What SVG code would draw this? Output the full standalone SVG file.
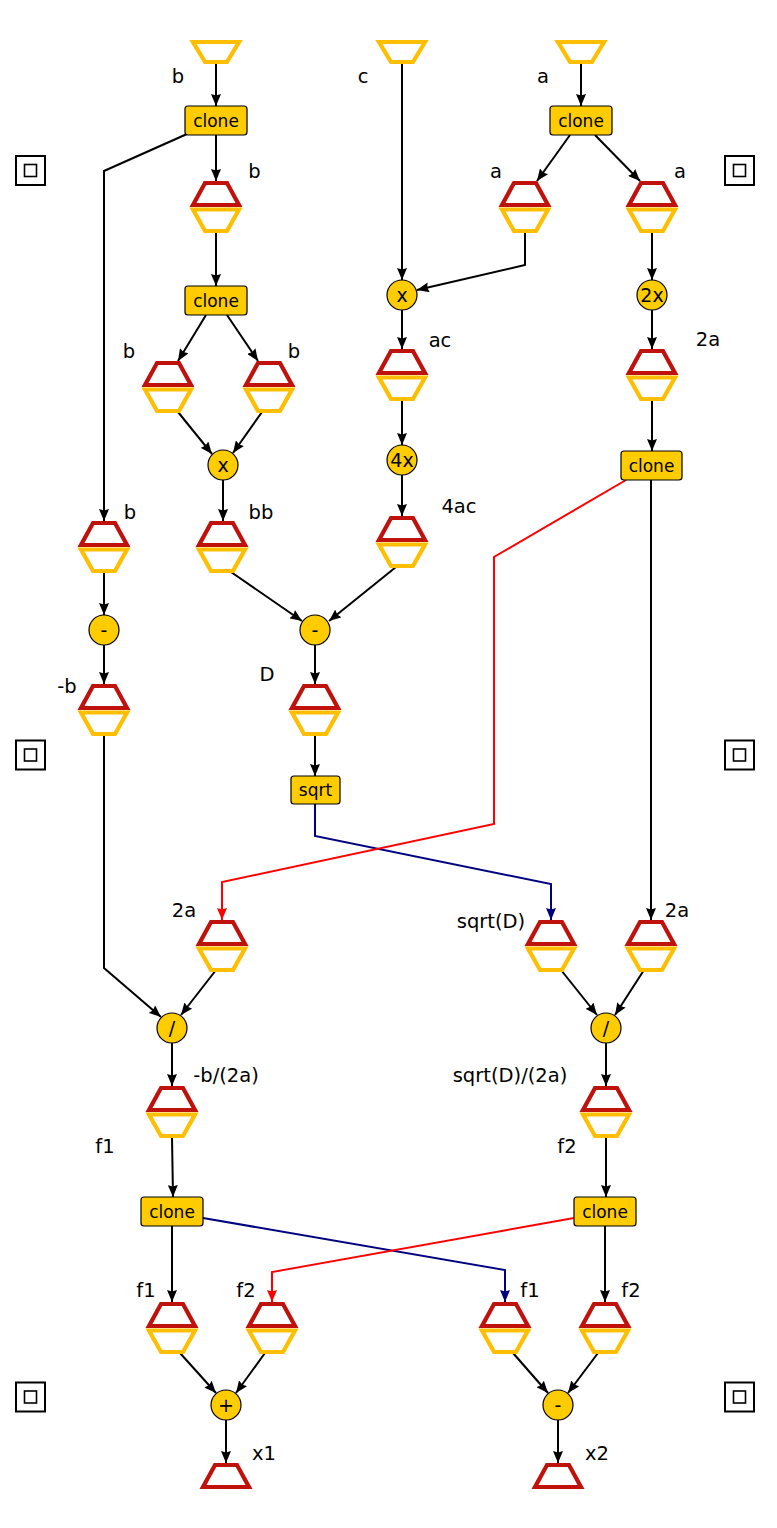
<svg xmlns="http://www.w3.org/2000/svg" xmlns:xlink="http://www.w3.org/1999/xlink" width="777" height="1528" viewBox="0 0 777 1528">
<style>
.e{fill:none;stroke:#000;stroke-width:2}
.er{fill:none;stroke:#ff0000;stroke-width:2}
.eb{fill:none;stroke:#000080;stroke-width:2}
.red{fill:none;stroke:#c0120c;stroke-width:4.2;stroke-linejoin:miter}
.yel{fill:none;stroke:#ffbf00;stroke-width:4.2;stroke-linejoin:miter}
.box{fill:#ffcc00;stroke:#000;stroke-width:1.2}
.t{font-family:"DejaVu Sans",sans-serif;font-size:19.5px;fill:#000;text-anchor:middle}
.to{font-family:"DejaVu Sans",sans-serif;font-size:19px;fill:#000;text-anchor:middle}
.tc{font-family:"DejaVu Sans",sans-serif;font-size:17px;fill:#000;text-anchor:middle}
.sq{fill:none;stroke:#000;stroke-width:2}
.sqi{fill:none;stroke:#000;stroke-width:1.6}
</style>
<defs>
<marker id="ab" viewBox="0 0 12 10" refX="12" refY="5" markerWidth="12" markerHeight="10" markerUnits="userSpaceOnUse" orient="auto"><path d="M0,0 L12,5 L0,10 L1.5,5 z" fill="#000"/></marker>
<marker id="ar" viewBox="0 0 12 10" refX="12" refY="5" markerWidth="12" markerHeight="10" markerUnits="userSpaceOnUse" orient="auto"><path d="M0,0 L12,5 L0,10 L1.5,5 z" fill="#ff0000"/></marker>
<marker id="au" viewBox="0 0 12 10" refX="12" refY="5" markerWidth="12" markerHeight="10" markerUnits="userSpaceOnUse" orient="auto"><path d="M0,0 L12,5 L0,10 L1.5,5 z" fill="#000080"/></marker>
<g id="hex"><polygon class="red" points="-11,2 11,2 23,24 -23,24"/><polygon class="yel" points="-23,28.5 23,28.5 11,50 -11,50"/></g>
<g id="inp"><polygon class="yel" points="-23,2 23,2 11,22 -11,22"/></g>
<g id="outp"><polygon class="red" points="-11,2 11,2 23,24 -23,24"/></g>
<g id="sqr"><rect class="sq" x="-14.5" y="-14.5" width="29" height="29"/><rect class="sqi" x="-6" y="-6" width="12" height="12"/></g>
</defs>
<rect width="777" height="1528" fill="#fff"/>

<g id="frame">
<use xlink:href="#sqr" x="30.5" y="170.5"/>
<use xlink:href="#sqr" x="739.5" y="170.5"/>
<use xlink:href="#sqr" x="30.5" y="755"/>
<use xlink:href="#sqr" x="739.5" y="755"/>
<use xlink:href="#sqr" x="30.5" y="1397"/>
<use xlink:href="#sqr" x="739.5" y="1397"/>
</g>

<g id="edges">
<path class="e" d="M216,64 L216,106" marker-end="url(#ab)"/>
<path class="e" d="M581,64 L581,106" marker-end="url(#ab)"/>
<path class="e" d="M402,64 L402,280" marker-end="url(#ab)"/>
<path class="e" d="M187,134 L104,171 L104,521" marker-end="url(#ab)"/>
<path class="e" d="M216,135 L216,181" marker-end="url(#ab)"/>
<path class="e" d="M570,135 L537,181" marker-end="url(#ab)"/>
<path class="e" d="M595,135 L640,181" marker-end="url(#ab)"/>
<path class="e" d="M216,232 L216,286" marker-end="url(#ab)"/>
<path class="e" d="M525,232 L525,265 L417,290" marker-end="url(#ab)"/>
<path class="e" d="M652,232 L652,280" marker-end="url(#ab)"/>
<path class="e" d="M206,315 L178,361" marker-end="url(#ab)"/>
<path class="e" d="M227,315 L258,361" marker-end="url(#ab)"/>
<path class="e" d="M178,412 L212,454" marker-end="url(#ab)"/>
<path class="e" d="M262,412 L233,453" marker-end="url(#ab)"/>
<path class="e" d="M402,310 L402,349" marker-end="url(#ab)"/>
<path class="e" d="M402,400 L402,445" marker-end="url(#ab)"/>
<path class="e" d="M402,475 L402,516" marker-end="url(#ab)"/>
<path class="e" d="M652,310 L652,349" marker-end="url(#ab)"/>
<path class="e" d="M652,400 L652,451" marker-end="url(#ab)"/>
<path class="e" d="M223,480 L223,521" marker-end="url(#ab)"/>
<path class="e" d="M104,572 L104,615" marker-end="url(#ab)"/>
<path class="e" d="M104,645 L104,684" marker-end="url(#ab)"/>
<path class="e" d="M231,572 L302,621" marker-end="url(#ab)"/>
<path class="e" d="M396,567 L329,621" marker-end="url(#ab)"/>
<path class="e" d="M315,645 L315,684" marker-end="url(#ab)"/>
<path class="e" d="M315,735 L315,776" marker-end="url(#ab)"/>
<path class="eb" d="M315,804 L315,836 L551,884 L551,920" marker-end="url(#au)"/>
<path class="er" d="M626,480 L494,557 L494,824 L222,882 L222,920" marker-end="url(#ar)"/>
<path class="e" d="M651,480 L651,920" marker-end="url(#ab)"/>
<path class="e" d="M104,735 L104,968 L161,1017" marker-end="url(#ab)"/>
<path class="e" d="M216,970 L181,1015" marker-end="url(#ab)"/>
<path class="e" d="M561,970 L597,1015" marker-end="url(#ab)"/>
<path class="e" d="M644,970 L615,1015" marker-end="url(#ab)"/>
<path class="e" d="M172,1043 L172,1086" marker-end="url(#ab)"/>
<path class="e" d="M606,1043 L606,1086" marker-end="url(#ab)"/>
<path class="e" d="M172,1137 L173,1197" marker-end="url(#ab)"/>
<path class="e" d="M606,1137 L606,1197" marker-end="url(#ab)"/>
<path class="e" d="M172,1226 L172,1302" marker-end="url(#ab)"/>
<path class="eb" d="M203,1218 L505,1270 L505,1302" marker-end="url(#au)"/>
<path class="er" d="M574,1218 L272,1272 L272,1302" marker-end="url(#ar)"/>
<path class="e" d="M605,1226 L605,1302" marker-end="url(#ab)"/>
<path class="e" d="M180,1353 L216,1393" marker-end="url(#ab)"/>
<path class="e" d="M265,1353 L236,1393" marker-end="url(#ab)"/>
<path class="e" d="M513,1353 L548,1393" marker-end="url(#ab)"/>
<path class="e" d="M598,1353 L568,1393" marker-end="url(#ab)"/>
<path class="e" d="M226,1420 L226,1463" marker-end="url(#ab)"/>
<path class="e" d="M558,1420 L558,1463" marker-end="url(#ab)"/>
</g>

<g id="in_b"><use xlink:href="#inp" x="216" y="40"/></g>
<g id="in_c"><use xlink:href="#inp" x="402" y="40"/></g>
<g id="in_a"><use xlink:href="#inp" x="581" y="40"/></g>

<g id="clone1"><rect class="box" x="185" y="106" width="62" height="29" rx="3"/><text class="tc" x="216" y="126.5">clone</text></g>
<g id="clone2"><rect class="box" x="550" y="106" width="62" height="29" rx="3"/><text class="tc" x="581" y="126.5">clone</text></g>
<g id="clone3"><rect class="box" x="185" y="286" width="62" height="29" rx="3"/><text class="tc" x="216" y="306.5">clone</text></g>
<g id="clone4"><rect class="box" x="621" y="451" width="61" height="29" rx="3"/><text class="tc" x="651.5" y="471.5">clone</text></g>
<g id="clone5"><rect class="box" x="141" y="1197" width="62" height="29" rx="3"/><text class="tc" x="172" y="1217.5">clone</text></g>
<g id="clone6"><rect class="box" x="574" y="1197" width="62" height="29" rx="3"/><text class="tc" x="605" y="1217.5">clone</text></g>
<g id="sqrt"><rect class="box" x="291" y="776" width="49" height="28" rx="3"/><text class="tc" x="315.5" y="796">sqrt</text></g>

<g id="h_b1"><use xlink:href="#hex" x="216" y="181"/></g>
<g id="h_a1"><use xlink:href="#hex" x="525" y="181"/></g>
<g id="h_a2"><use xlink:href="#hex" x="652" y="181"/></g>
<g id="h_b2"><use xlink:href="#hex" x="168" y="361"/></g>
<g id="h_b3"><use xlink:href="#hex" x="269" y="361"/></g>
<g id="h_ac"><use xlink:href="#hex" x="402" y="349"/></g>
<g id="h_2a"><use xlink:href="#hex" x="652" y="349"/></g>
<g id="h_b4"><use xlink:href="#hex" x="104" y="521"/></g>
<g id="h_bb"><use xlink:href="#hex" x="222" y="521"/></g>
<g id="h_4ac"><use xlink:href="#hex" x="402" y="516"/></g>
<g id="h_mb"><use xlink:href="#hex" x="104" y="684"/></g>
<g id="h_D"><use xlink:href="#hex" x="315" y="684"/></g>
<g id="h_2a_l"><use xlink:href="#hex" x="222" y="920"/></g>
<g id="h_sqrtD"><use xlink:href="#hex" x="551" y="920"/></g>
<g id="h_2a_r"><use xlink:href="#hex" x="651" y="920"/></g>
<g id="h_f1"><use xlink:href="#hex" x="172" y="1086"/></g>
<g id="h_f2"><use xlink:href="#hex" x="606" y="1086"/></g>
<g id="h_f1a"><use xlink:href="#hex" x="172" y="1302"/></g>
<g id="h_f2a"><use xlink:href="#hex" x="272" y="1302"/></g>
<g id="h_f1b"><use xlink:href="#hex" x="505" y="1302"/></g>
<g id="h_f2b"><use xlink:href="#hex" x="605" y="1302"/></g>

<g id="op_mul1"><circle class="box" cx="402" cy="295" r="15"/><text class="to" x="402" y="301.5">x</text></g>
<g id="op_2x"><circle class="box" cx="652" cy="295" r="15"/><text class="to" x="652" y="301.5">2x</text></g>
<g id="op_mul2"><circle class="box" cx="223" cy="465" r="15"/><text class="to" x="223" y="471.5">x</text></g>
<g id="op_4x"><circle class="box" cx="402" cy="460" r="15"/><text class="to" x="402" y="466.5">4x</text></g>
<g id="op_neg"><circle class="box" cx="104" cy="630" r="15"/><text class="to" x="104" y="636.5">-</text></g>
<g id="op_sub"><circle class="box" cx="315" cy="630" r="15"/><text class="to" x="315" y="636.5">-</text></g>
<g id="op_div1"><circle class="box" cx="172" cy="1028" r="15"/><text class="to" x="172" y="1034.5">/</text></g>
<g id="op_div2"><circle class="box" cx="606" cy="1028" r="15"/><text class="to" x="606" y="1034.5">/</text></g>
<g id="op_add"><circle class="box" cx="226" cy="1405" r="15"/><text class="to" x="226" y="1411.5">+</text></g>
<g id="op_sub2"><circle class="box" cx="558" cy="1405" r="15"/><text class="to" x="558" y="1411.5">-</text></g>

<g id="out_x1"><use xlink:href="#outp" x="226" y="1463"/></g>
<g id="out_x2"><use xlink:href="#outp" x="558" y="1463"/></g>

<g id="labels">
<text class="t" x="178" y="83">b</text>
<text class="t" x="363" y="83">c</text>
<text class="t" x="543" y="83">a</text>
<text class="t" x="254.5" y="178">b</text>
<text class="t" x="496" y="178">a</text>
<text class="t" x="680" y="178">a</text>
<text class="t" x="129" y="358">b</text>
<text class="t" x="294" y="358">b</text>
<text class="t" x="440" y="347">ac</text>
<text class="t" x="708" y="346">2a</text>
<text class="t" x="130" y="519">b</text>
<text class="t" x="261" y="519">bb</text>
<text class="t" x="459" y="513">4ac</text>
<text class="t" x="67" y="693">-b</text>
<text class="t" x="267" y="681">D</text>
<text class="t" x="184" y="917">2a</text>
<text class="t" x="491" y="928">sqrt(D)</text>
<text class="t" x="677" y="917">2a</text>
<text class="t" x="226" y="1082">-b/(2a)</text>
<text class="t" x="510" y="1082">sqrt(D)/(2a)</text>
<text class="t" x="105" y="1153">f1</text>
<text class="t" x="567" y="1153">f2</text>
<text class="t" x="146" y="1297">f1</text>
<text class="t" x="246" y="1297">f2</text>
<text class="t" x="530" y="1297">f1</text>
<text class="t" x="631" y="1297">f2</text>
<text class="t" x="264" y="1460">x1</text>
<text class="t" x="597" y="1460">x2</text>
</g>
</svg>
